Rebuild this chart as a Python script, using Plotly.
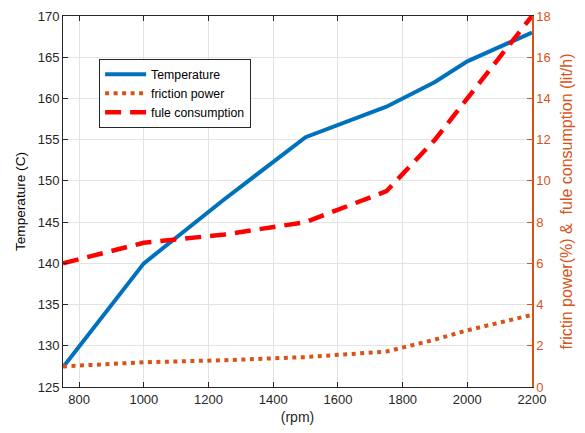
import plotly.graph_objects as go

# Engine speed (rpm)
rpm = [750, 1000, 1250, 1500, 1750, 1900, 2000, 2200]
# Lubricant temperature (C)
temperature = [127.4, 140.0, 147.8, 155.3, 159.0, 162.0, 164.5, 168.0]
# Friction power (%)
friction_power = [1.0, 1.2, 1.3, 1.45, 1.72, 2.3, 2.75, 3.5]
# Fuel consumption (lit/h)
fuel_consumption = [6.0, 7.0, 7.4, 8.0, 9.5, 12.0, 14.0, 18.0]

x_ticks = [800, 1000, 1200, 1400, 1600, 1800, 2000, 2200]
y_left_ticks = [125, 130, 135, 140, 145, 150, 155, 160, 165, 170]
y_right_ticks = [0, 2, 4, 6, 8, 10, 12, 14, 16, 18]

BLUE = "#0072BD"
ORANGE = "#D95319"
RED = "#FF0000"
TXT = "#262626"
FONT = "Liberation Sans, Arial, sans-serif"

fig = go.Figure()
fig.add_trace(go.Scatter(
    x=rpm, y=temperature, name="Temperature", mode="lines",
    line=dict(color=BLUE, width=4), yaxis="y"))
fig.add_trace(go.Scatter(
    x=rpm, y=friction_power, name="friction power", mode="lines",
    line=dict(color=ORANGE, width=4, dash="4px,4.5px"), yaxis="y2"))
fig.add_trace(go.Scatter(
    x=rpm, y=fuel_consumption, name="fule consumption", mode="lines",
    line=dict(color=RED, width=4.5, dash="16px,9px"), yaxis="y2"))

fig.update_layout(
    width=585, height=433,
    margin=dict(l=63, r=53, t=16, b=46, autoexpand=False),
    paper_bgcolor="white", plot_bgcolor="white",
    font=dict(family=FONT, size=13, color=TXT),
    showlegend=True,
    legend=dict(
        x=0.077, y=0.885, xanchor="left", yanchor="top",
        bgcolor="white", bordercolor=TXT, borderwidth=1,
        font=dict(family=FONT, size=12.3, color="#000000"),
        itemwidth=41, tracegroupgap=0,
    ),
    xaxis=dict(
        range=[750, 2200], tickvals=x_ticks, automargin=False,
        ticks="inside", ticklen=5, tickcolor=TXT,
        showline=True, linecolor=TXT, linewidth=1, mirror="ticks",
        showgrid=True, gridcolor="#E3E3E3", gridwidth=1,
        zeroline=False,
        title=dict(text="(rpm)", font=dict(size=14, color=TXT), standoff=6),
        tickfont=dict(size=13, color=TXT),
    ),
    yaxis=dict(
        range=[125, 170], tickvals=y_left_ticks, automargin=False,
        ticks="inside", ticklen=5, tickcolor=TXT,
        showline=True, linecolor=TXT, linewidth=1,
        showgrid=True, gridcolor="#E3E3E3", gridwidth=1,
        zeroline=False,
        title=dict(text="Temperature (C)", font=dict(size=13.6, color="#000000"), standoff=8),
        tickfont=dict(size=13, color=TXT),
    ),
    yaxis2=dict(
        range=[0, 18], tickvals=y_right_ticks, automargin=False,
        overlaying="y", side="right", anchor="x",
        ticks="inside", ticklen=5, tickcolor=ORANGE,
        showline=True, linecolor=ORANGE, linewidth=1.5,
        showgrid=False, zeroline=False,
        title=dict(text="frictin power(%) &\u00a0\u00a0fule consumption (lit/h)",
                   font=dict(size=16, color=ORANGE), standoff=11),
        tickfont=dict(size=13, color=ORANGE),
    ),
)

fig.write_html("out.html")
